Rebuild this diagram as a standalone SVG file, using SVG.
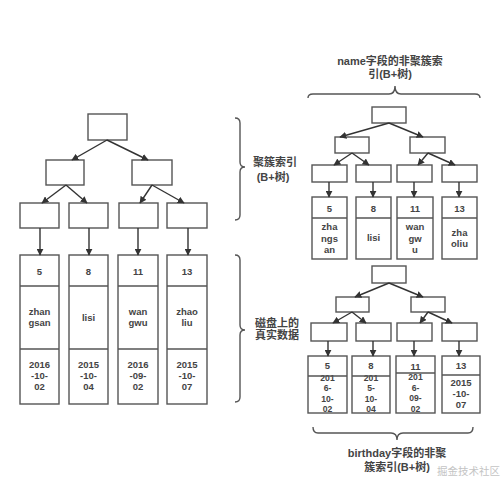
<svg xmlns="http://www.w3.org/2000/svg" width="502" height="479" viewBox="0 0 502 479">
<defs>
<marker id="ah" viewBox="0 0 10 10" refX="9" refY="5" markerWidth="7" markerHeight="7" orient="auto" markerUnits="userSpaceOnUse">
<path d="M0,0 L10,5 L0,10 z" fill="#333"/>
</marker>
<clipPath id="c1"><rect x="308" y="372" width="39" height="41"/></clipPath>
<clipPath id="c2"><rect x="352" y="372" width="38" height="41"/></clipPath>
<clipPath id="c3"><rect x="396" y="372" width="39" height="41"/></clipPath>
</defs>
<style>
rect{fill:#fff;stroke:#555;stroke-width:1.4}
.cn line{stroke:#333;stroke-width:1.4;fill:none;marker-end:url(#ah)}
.br{stroke:#555;stroke-width:1.4;fill:none}
text{font-family:"Liberation Sans","Noto Sans CJK SC",sans-serif;font-weight:bold;font-size:9.5px;fill:#444;text-anchor:middle}
.lb{font-size:11px}
.sm{font-size:8.6px}
.dv{stroke:#555;stroke-width:1.4}
.wm{font-size:10.5px;font-weight:normal;fill:#c4c4c4;text-anchor:start}
</style>
<rect x="0" y="0" width="502" height="479" style="fill:#fff;stroke:none"/>

<!-- Left clustered tree -->
<g id="L-root"><rect x="88" y="114" width="39" height="26"/></g>
<g id="L-n1"><rect x="46" y="160" width="38" height="25"/></g>
<g id="L-n2"><rect x="132" y="160" width="40" height="25"/></g>
<g id="L-l1"><rect x="20" y="203" width="39" height="25"/></g>
<g id="L-l2"><rect x="69" y="203" width="39" height="25"/></g>
<g id="L-l3"><rect x="119" y="203" width="39" height="25"/></g>
<g id="L-l4"><rect x="167" y="203" width="40" height="25"/></g>

<g id="L-d1"><rect x="20" y="255" width="39" height="149"/><line class="dv" x1="20" y1="286" x2="59" y2="286"/><line class="dv" x1="20" y1="349" x2="59" y2="349"/>
<text x="39.5" y="275">5</text>
<text x="39.5" y="315">zhan<tspan x="39.5" dy="11">gsan</tspan></text>
<text x="39.5" y="368">2016<tspan x="39.5" dy="11">-10-</tspan><tspan x="39.5" dy="11">02</tspan></text></g>
<g id="L-d2"><rect x="69" y="255" width="39" height="149"/><line class="dv" x1="69" y1="286" x2="108" y2="286"/><line class="dv" x1="69" y1="349" x2="108" y2="349"/>
<text x="88.5" y="275">8</text>
<text x="88.5" y="321">lisi</text>
<text x="88.5" y="368">2015<tspan x="88.5" dy="11">-10-</tspan><tspan x="88.5" dy="11">04</tspan></text></g>
<g id="L-d3"><rect x="118" y="255" width="40" height="149"/><line class="dv" x1="118" y1="286" x2="158" y2="286"/><line class="dv" x1="118" y1="349" x2="158" y2="349"/>
<text x="138" y="275">11</text>
<text x="138" y="315">wan<tspan x="138" dy="11">gwu</tspan></text>
<text x="138" y="368">2016<tspan x="138" dy="11">-09-</tspan><tspan x="138" dy="11">02</tspan></text></g>
<g id="L-d4"><rect x="167" y="255" width="40" height="149"/><line class="dv" x1="167" y1="286" x2="207" y2="286"/><line class="dv" x1="167" y1="349" x2="207" y2="349"/>
<text x="187" y="275">13</text>
<text x="187" y="315">zhao<tspan x="187" dy="11">liu</tspan></text>
<text x="187" y="368">2015<tspan x="187" dy="11">-10-</tspan><tspan x="187" dy="11">07</tspan></text></g>

<!-- Upper right name index tree -->
<g id="N-root"><rect x="372" y="107" width="34" height="16"/></g>
<g id="N-n1"><rect x="335" y="137" width="34" height="16"/></g>
<g id="N-n2"><rect x="410" y="137" width="35" height="16"/></g>
<g id="N-l1"><rect x="312" y="165" width="35" height="17"/></g>
<g id="N-l2"><rect x="356" y="165" width="35" height="17"/></g>
<g id="N-l3"><rect x="397" y="165" width="35" height="17"/></g>
<g id="N-l4"><rect x="442" y="165" width="35" height="17"/></g>

<g id="N-d1"><rect x="312" y="197" width="35" height="62"/><line class="dv" x1="312" y1="218" x2="347" y2="218"/>
<text x="329.5" y="211.5">5</text>
<text x="329.5" y="230">zha<tspan x="329.5" dy="11.5">ngs</tspan><tspan x="329.5" dy="11.5">an</tspan></text></g>
<g id="N-d2"><rect x="356" y="197" width="35" height="62"/><line class="dv" x1="356" y1="218" x2="391" y2="218"/>
<text x="373.5" y="211.5">8</text><text x="373.5" y="241">lisi</text></g>
<g id="N-d3"><rect x="397" y="197" width="36" height="62"/><line class="dv" x1="397" y1="218" x2="433" y2="218"/>
<text x="415" y="211.5">11</text>
<text x="415" y="230">wan<tspan x="415" dy="11.5">gw</tspan><tspan x="415" dy="11.5">u</tspan></text></g>
<g id="N-d4"><rect x="442" y="197" width="35" height="62"/><line class="dv" x1="442" y1="218" x2="477" y2="218"/>
<text x="459.5" y="211.5">13</text>
<text x="459.5" y="236">zha<tspan x="459.5" dy="11">oliu</tspan></text></g>

<!-- Lower right birthday index tree -->
<g id="B-root"><rect x="372" y="266" width="34" height="17"/></g>
<g id="B-n1"><rect x="336" y="297" width="33" height="15"/></g>
<g id="B-n2"><rect x="411" y="297" width="34" height="15"/></g>
<g id="B-l1"><rect x="311" y="323" width="36" height="18"/></g>
<g id="B-l2"><rect x="356" y="323" width="35" height="18"/></g>
<g id="B-l3"><rect x="397" y="323" width="35" height="18"/></g>
<g id="B-l4"><rect x="442" y="323" width="35" height="18"/></g>

<g id="B-d1"><rect x="308" y="356" width="39" height="57"/>
<text x="327.5" y="369">5</text>
<g clip-path="url(#c1)"><text class="sm" x="327.5" y="380.5">201<tspan x="327.5" dy="10.5">6-</tspan><tspan x="327.5" dy="10.5">10-</tspan><tspan x="327.5" dy="10.5">02</tspan></text></g>
<line class="dv" x1="308" y1="376" x2="347" y2="376"/></g>
<g id="B-d2"><rect x="352" y="356" width="38" height="57"/>
<text x="371" y="369">8</text>
<g clip-path="url(#c2)"><text class="sm" x="371" y="380.5">201<tspan x="371" dy="10.5">5-</tspan><tspan x="371" dy="10.5">10-</tspan><tspan x="371" dy="10.5">04</tspan></text></g>
<line class="dv" x1="352" y1="376" x2="390" y2="376"/></g>
<g id="B-d3"><rect x="396" y="356" width="39" height="57"/>
<text x="415.5" y="369.5">11</text>
<g clip-path="url(#c3)"><text class="sm" x="415.5" y="380">201<tspan x="415.5" dy="10.5">6-</tspan><tspan x="415.5" dy="10.5">09-</tspan><tspan x="415.5" dy="10.5">02</tspan></text></g>
<line class="dv" x1="396" y1="373" x2="435" y2="373"/></g>
<g id="B-d4"><rect x="442" y="356" width="38" height="57"/><line class="dv" x1="442" y1="375" x2="480" y2="375"/>
<text x="461" y="369">13</text>
<text x="461" y="386">2015<tspan x="461" dy="11">-10-</tspan><tspan x="461" dy="11">07</tspan></text></g>

<!-- Connectors -->
<g id="connectors" class="cn">
<line x1="107" y1="140" x2="72" y2="160"/>
<line x1="107" y1="140" x2="148" y2="160"/>
<line x1="66" y1="185" x2="42" y2="203"/>
<line x1="66" y1="185" x2="87" y2="203"/>
<line x1="152" y1="185" x2="140" y2="203"/>
<line x1="152" y1="185" x2="184" y2="203"/>
<line x1="40" y1="228" x2="40" y2="255"/>
<line x1="89" y1="228" x2="89" y2="255"/>
<line x1="138" y1="228" x2="138" y2="255"/>
<line x1="188" y1="228" x2="188" y2="255"/>

<line x1="389" y1="123" x2="340" y2="137"/>
<line x1="389" y1="123" x2="423" y2="137"/>
<line x1="352" y1="153" x2="334" y2="165"/>
<line x1="352" y1="153" x2="369" y2="165"/>
<line x1="428" y1="153" x2="418" y2="165"/>
<line x1="428" y1="153" x2="455" y2="165"/>
<line x1="329" y1="182" x2="329" y2="197"/>
<line x1="373" y1="182" x2="373" y2="197"/>
<line x1="414" y1="182" x2="414" y2="197"/>
<line x1="459" y1="182" x2="459" y2="197"/>

<line x1="389" y1="283" x2="355" y2="297"/>
<line x1="389" y1="283" x2="423" y2="297"/>
<line x1="352" y1="312" x2="333" y2="323"/>
<line x1="352" y1="312" x2="366" y2="323"/>
<line x1="428" y1="312" x2="420" y2="323"/>
<line x1="428" y1="312" x2="452" y2="323"/>
<line x1="328" y1="341" x2="328" y2="356"/>
<line x1="373" y1="341" x2="373" y2="356"/>
<line x1="414" y1="341" x2="414" y2="356"/>
<line x1="459" y1="341" x2="459" y2="356"/>
</g>

<!-- Braces and labels -->
<g id="brace-top">
<path class="br" d="M308,98 Q308,94 313,94 L389,94 Q395,94 395,86 Q395,94 401,94 L475,94 Q480,94 480,98"/>
<text class="lb" x="390" y="65">name字段的非聚簇索<tspan x="390" dy="13">引(B+树)</tspan></text>
</g>
<g id="brace-clustered">
<path class="br" d="M235,118 Q240,118 240,123 L240,162 Q240,167 245,167 Q240,167 240,172 L240,215 Q240,220 235,220"/>
<text class="lb" x="275" y="166">聚簇索引<tspan x="273" dy="15">(B+树)</tspan></text>
</g>
<g id="brace-disk">
<path class="br" d="M235,255 Q240,255 240,260 L240,325 Q240,330 245,330 Q240,330 240,335 L240,397 Q240,402 235,402"/>
<text class="lb" x="277" y="327">磁盘上的<tspan x="277" dy="12">真实数据</tspan></text>
</g>
<g id="brace-bottom">
<path class="br" d="M313,427 Q313,433 318,433 L391,433 Q397,433 397,440 Q397,433 403,433 L468,433 Q473,433 473,427"/>
<text class="lb" x="397" y="457">birthday字段的非聚<tspan x="397" dy="14">簇索引(B+树)</tspan></text>
</g>
<text class="wm" x="437" y="475">掘金技术社区</text>
</svg>
